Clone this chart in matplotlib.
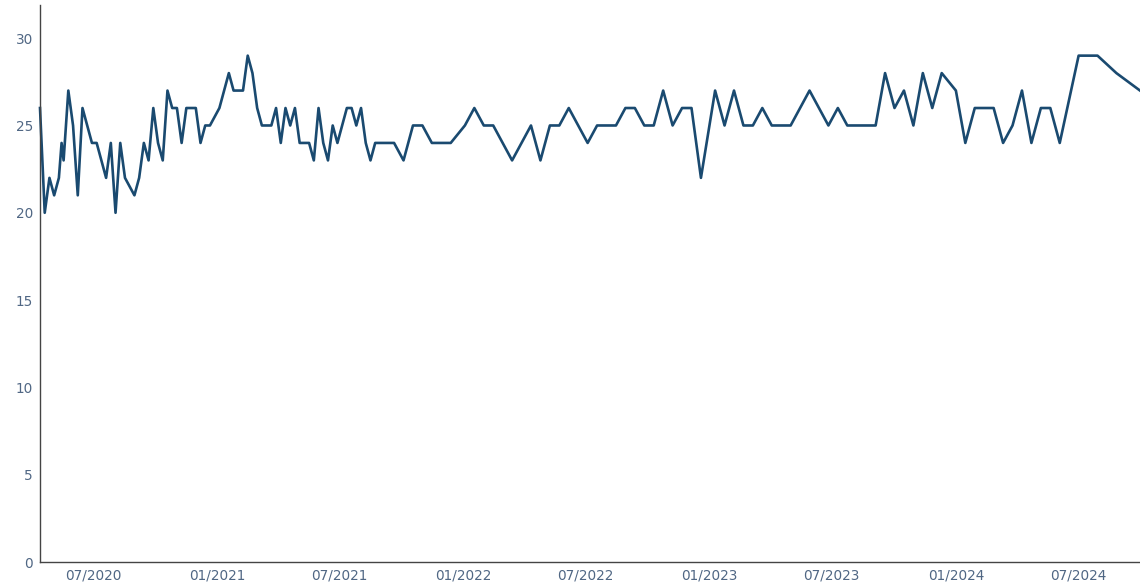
import matplotlib
matplotlib.use("Agg")

import matplotlib.pyplot as plt
import matplotlib.dates as mdates
import pandas as pd

# ── data ────────────────────────────────────────────────────────────────────
dates = [
    "2020-04-13", "2020-04-20", "2020-04-27", "2020-05-04", "2020-05-11", "2020-05-15",
    "2020-05-18", "2020-05-25", "2020-06-01", "2020-06-08", "2020-06-15", "2020-06-29",
    "2020-07-06", "2020-07-20", "2020-07-27", "2020-08-03", "2020-08-10", "2020-08-17",
    "2020-08-31", "2020-09-07", "2020-09-14", "2020-09-21", "2020-09-28", "2020-10-05",
    "2020-10-12", "2020-10-19", "2020-10-26", "2020-11-02", "2020-11-09", "2020-11-16",
    "2020-11-30", "2020-12-07", "2020-12-14", "2020-12-21", "2021-01-04", "2021-01-18",
    "2021-01-25", "2021-02-08", "2021-02-15", "2021-02-22", "2021-03-01", "2021-03-08",
    "2021-03-22", "2021-03-29", "2021-04-05", "2021-04-12", "2021-04-19", "2021-04-26",
    "2021-05-03", "2021-05-17", "2021-05-24", "2021-05-31", "2021-06-07", "2021-06-14",
    "2021-06-21", "2021-06-28", "2021-07-12", "2021-07-19", "2021-07-26", "2021-08-02",
    "2021-08-09", "2021-08-16", "2021-08-23", "2021-09-20", "2021-10-04", "2021-10-18",
    "2021-11-01", "2021-11-15", "2021-12-13", "2022-01-03", "2022-01-17", "2022-01-31",
    "2022-02-14", "2022-03-14", "2022-04-11", "2022-04-25", "2022-05-09", "2022-05-23",
    "2022-06-06", "2022-07-04", "2022-07-18", "2022-08-15", "2022-08-29", "2022-09-12",
    "2022-09-26", "2022-10-10", "2022-10-24", "2022-11-07", "2022-11-21", "2022-12-05",
    "2022-12-19", "2023-01-09", "2023-01-23", "2023-02-06", "2023-02-20", "2023-03-06",
    "2023-03-20", "2023-04-03", "2023-05-01", "2023-05-29", "2023-06-26", "2023-07-10",
    "2023-07-24", "2023-09-04", "2023-09-18", "2023-10-02", "2023-10-16", "2023-10-30",
    "2023-11-13", "2023-11-27", "2023-12-11", "2024-01-01", "2024-01-15", "2024-01-29",
    "2024-02-26", "2024-03-11", "2024-03-25", "2024-04-08", "2024-04-22", "2024-05-06",
    "2024-05-20", "2024-06-03", "2024-07-01", "2024-07-29", "2024-08-26", "2024-09-30",
]
values = [
    26, 20, 22, 21, 22, 24,
    23, 27, 25, 21, 26, 24,
    24, 22, 24, 20, 24, 22,
    21, 22, 24, 23, 26, 24,
    23, 27, 26, 26, 24, 26,
    26, 24, 25, 25, 26, 28,
    27, 27, 29, 28, 26, 25,
    25, 26, 24, 26, 25, 26,
    24, 24, 23, 26, 24, 23,
    25, 24, 26, 26, 25, 26,
    24, 23, 24, 24, 23, 25,
    25, 24, 24, 25, 26, 25,
    25, 23, 25, 23, 25, 25,
    26, 24, 25, 25, 26, 26,
    25, 25, 27, 25, 26, 26,
    22, 27, 25, 27, 25, 25,
    26, 25, 25, 27, 25, 26,
    25, 25, 28, 26, 27, 25,
    28, 26, 28, 27, 24, 26,
    26, 24, 25, 27, 24, 26,
    26, 24, 29, 29, 28, 27,
]
y_ticks = [0, 5, 10, 15, 20, 25, 30]

# ── style ───────────────────────────────────────────────────────────────────
plt.rcParams.update({
    "font.family": ["DejaVu Sans"],
    "font.size": 9.8,
})
LINE_COLOR = "#1a4a70"
TEXT_COLOR = "#506784"
AXIS_COLOR = "#444444"

x = pd.to_datetime(dates)

fig = plt.figure(figsize=(11.4, 5.86), dpi=100)
ax = fig.add_axes([40 / 1140, 24 / 586, 1 - 40 / 1140, 557 / 586])

ax.plot(x, values, color=LINE_COLOR, linewidth=1.9, solid_joinstyle="round",
        clip_on=False)

ax.set_xlim(x[0], x[-1])
ax.set_ylim(0, 31.9)
ax.set_yticks(y_ticks)

ax.xaxis.set_major_locator(mdates.MonthLocator(bymonth=[1, 7]))
ax.xaxis.set_major_formatter(mdates.DateFormatter("%m/%Y"))

for side in ("top", "right"):
    ax.spines[side].set_visible(False)
for side in ("left", "bottom"):
    ax.spines[side].set_color(AXIS_COLOR)
    ax.spines[side].set_linewidth(1.0)

ax.tick_params(axis="both", length=0, labelcolor=TEXT_COLOR, labelsize=9.8)
ax.tick_params(axis="y", pad=5)
ax.tick_params(axis="x", pad=5)

fig.savefig("out.png", dpi=100)
